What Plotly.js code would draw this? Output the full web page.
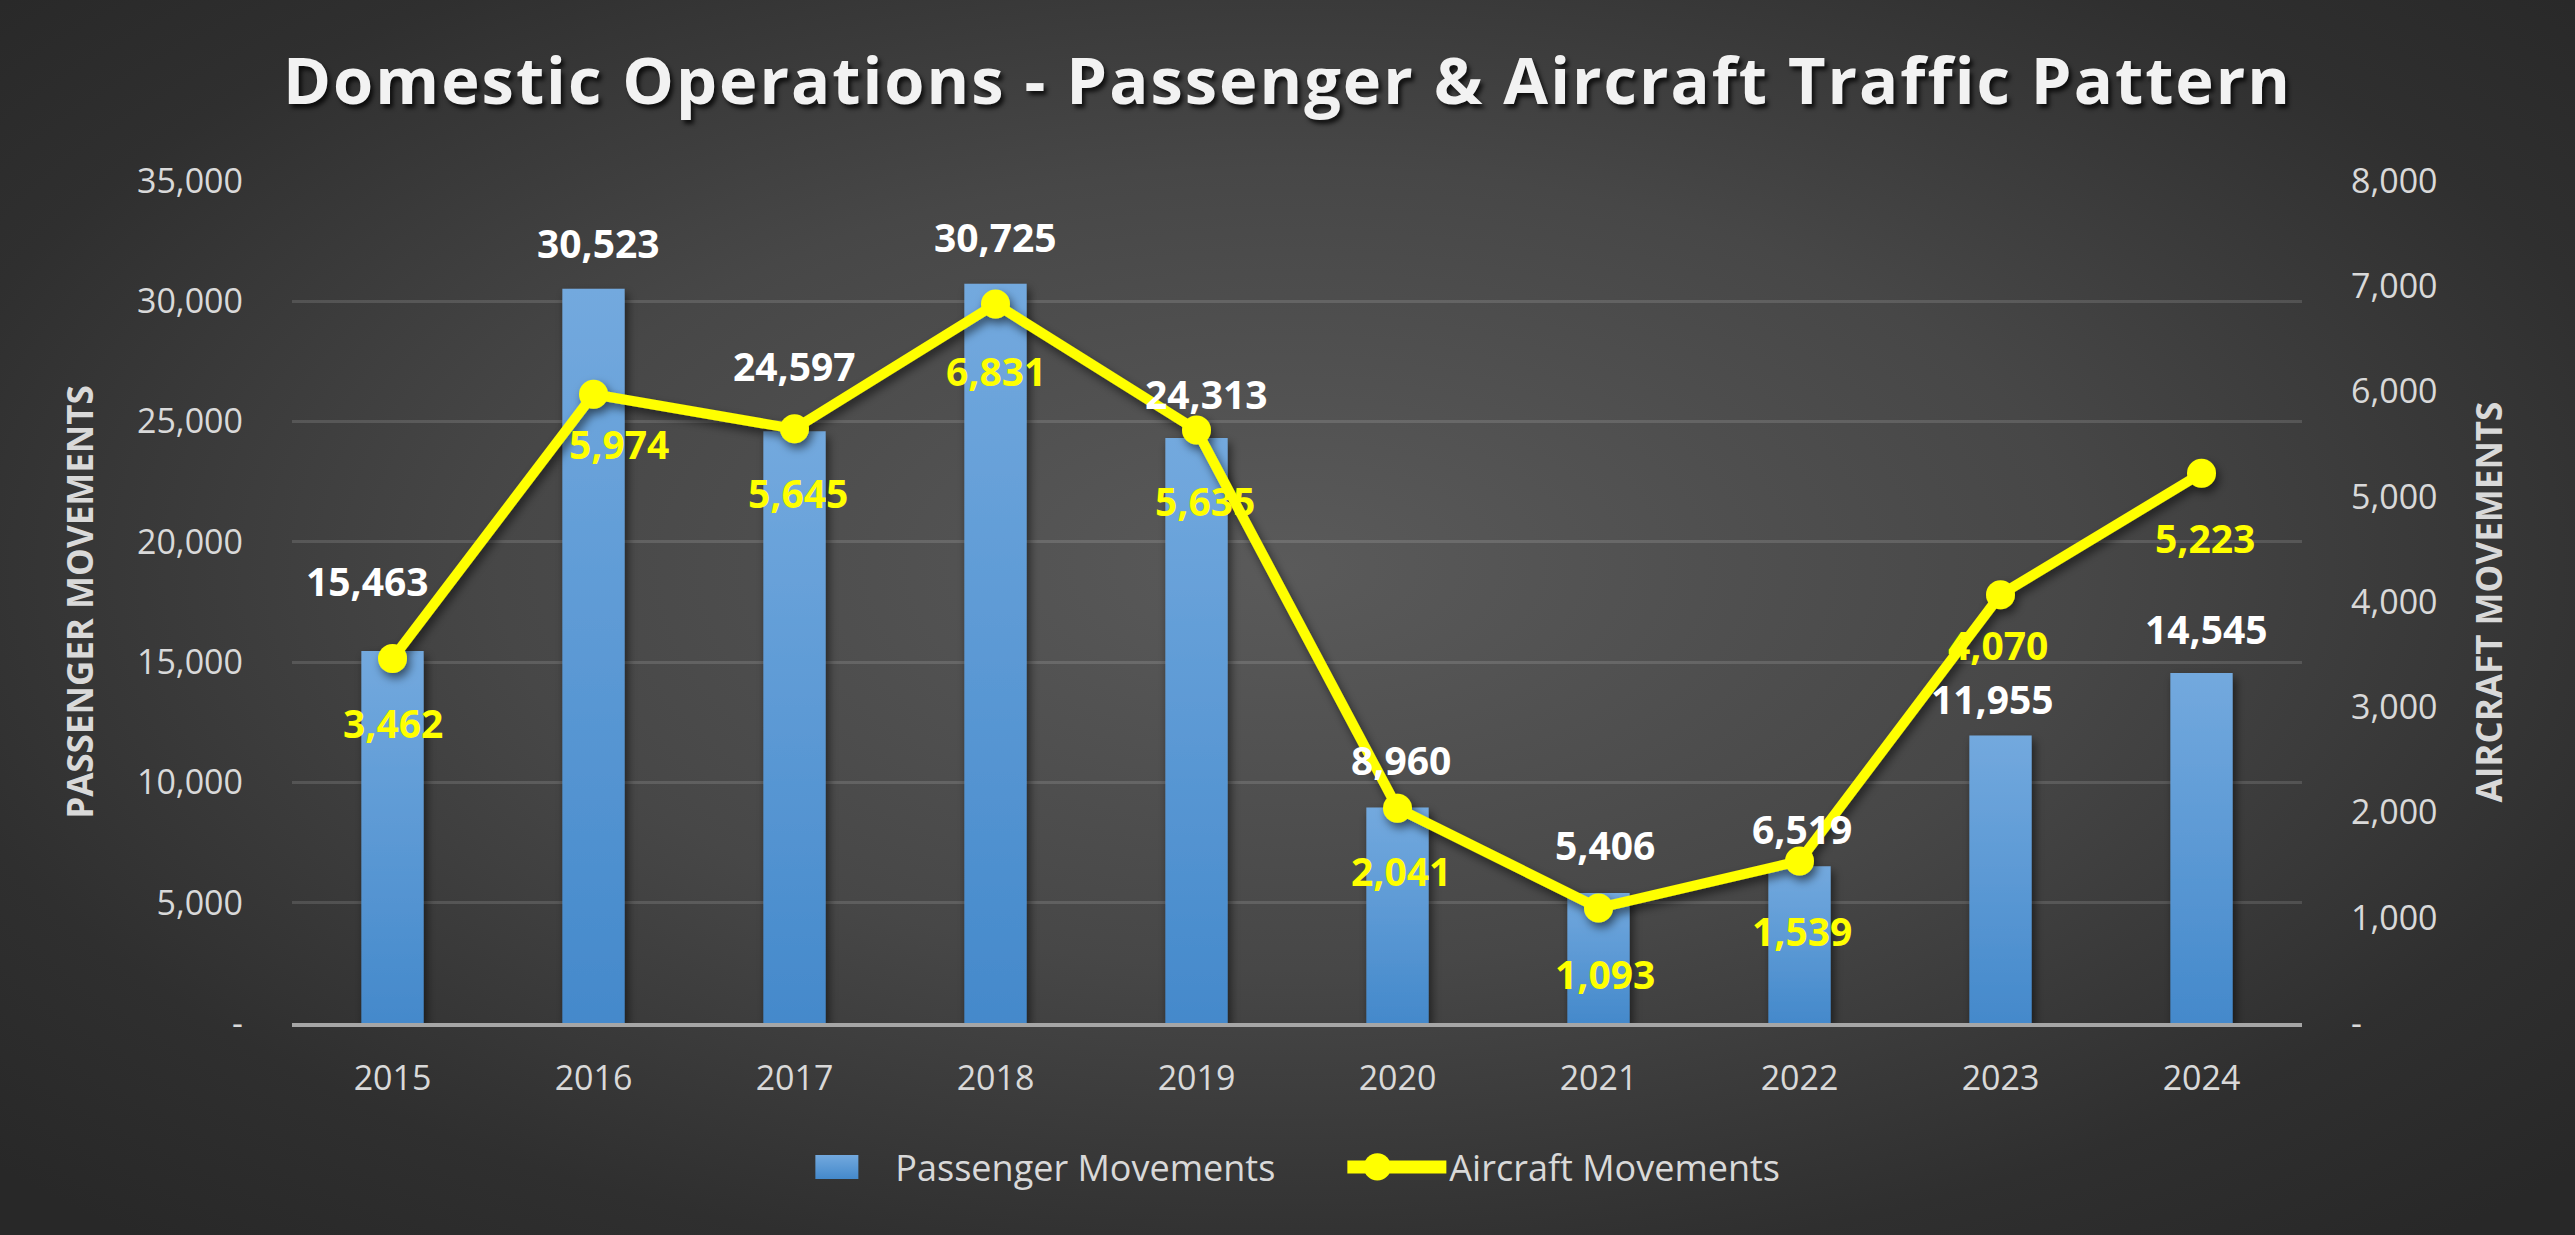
<!DOCTYPE html>
<html>
<head>
<meta charset="utf-8">
<script src="https://cdn.plot.ly/plotly-3.0.1.min.js"></script>
<style>
  html, body { margin: 0; padding: 0; width: 2575px; height: 1235px; overflow: hidden;
    background: radial-gradient(ellipse 68% 72% at 50% 46%, #5a5a5a 0%, #474747 45%, #2f2f2f 80%, #282828 100%); }
  #chart { width: 2575px; height: 1235px; }
  .gtitle { letter-spacing: 2px; }
</style>
</head>
<body>
<div id="chart"></div>
<script>
// ---------- data ----------
const years = ['2015', '2016', '2017', '2018', '2019', '2020', '2021', '2022', '2023', '2024'];
const passengerMovements = [15463, 30523, 24597, 30725, 24313, 8960, 5406, 6519, 11955, 14545];
const aircraftMovements = [3462, 5974, 5645, 6831, 5635, 2041, 1093, 1539, 4070, 5223];
const leftTickVals = [0, 5000, 10000, 15000, 20000, 25000, 30000, 35000];
const leftTickText = ['-', '5,000', '10,000', '15,000', '20,000', '25,000', '30,000', '35,000'];
const rightTickVals = [0, 1000, 2000, 3000, 4000, 5000, 6000, 7000, 8000];
const rightTickText = ['-', '1,000', '2,000', '3,000', '4,000', '5,000', '6,000', '7,000', '8,000'];

// ---------- label placement (style, px) ----------
const barLabelDy = [71, 46, 66, 47, 45, 48, 48, 38, 37, 45];
const barLabelDx = [-25, 5, 0, 0, 10, 3, 6, 2, -8, 5];
const lineLabelDy = [-64, -49, -64, -66, -71, -62, -66, -69, -50, -64];
const lineLabelDx = [0, 25, 3, 0, 8, 3, 6, 2, -3, 3];

const fmt = v => v.toLocaleString('en-US');
const textColor = '#d9d9d9';
const baseFont = 'Open Sans, Noto Sans, sans-serif';

const barTrace = {
  type: 'bar', name: 'Passenger Movements',
  x: years, y: passengerMovements,
  width: 0.31,
  marker: { color: '#5b9bd5', line: { width: 0 } },
  hoverinfo: 'skip'
};
const lineTrace = {
  type: 'scatter', mode: 'lines+markers', name: 'Aircraft Movements',
  x: years, y: aircraftMovements, yaxis: 'y2',
  line: { color: '#ffff00', width: 10 },
  marker: { color: '#ffff00', size: 29 },
  hoverinfo: 'skip'
};

const annotations = [];
years.forEach((yr, i) => {
  annotations.push({
    x: i, y: passengerMovements[i], xref: 'x', yref: 'y',
    text: fmt(passengerMovements[i]), showarrow: false,
    xanchor: 'center', yanchor: 'middle',
    xshift: barLabelDx[i], yshift: barLabelDy[i],
    font: { family: baseFont, size: 39, color: '#ffffff', weight: 700 }
  });
  annotations.push({
    x: i, y: aircraftMovements[i], xref: 'x', yref: 'y2',
    text: fmt(aircraftMovements[i]), showarrow: false,
    xanchor: 'center', yanchor: 'middle',
    xshift: lineLabelDx[i], yshift: lineLabelDy[i],
    font: { family: baseFont, size: 39, color: '#ffff00', weight: 700 }
  });
});

const layout = {
  width: 2575, height: 1235,
  margin: { l: 292, r: 273, t: 181, b: 212, pad: 0 },
  paper_bgcolor: 'rgba(0,0,0,0)',
  plot_bgcolor: 'rgba(0,0,0,0)',
  title: {
    text: 'Domestic Operations - Passenger & Aircraft Traffic Pattern',
    x: 0.5, xref: 'container', xanchor: 'center',
    y: 0.934, yref: 'container', yanchor: 'middle',
    font: { family: baseFont, size: 65, color: '#f2f2f2', weight: 700,
            shadow: '3px 4px 4px rgba(0,0,0,0.75)' }
  },
  xaxis: {
    type: 'category', range: [-0.5, 9.5],
    showgrid: false, zeroline: false,
    showline: true, linecolor: '#a6a6a6', linewidth: 4,
    ticks: '', ticklabelstandoff: 22,
    tickfont: { family: baseFont, size: 34, color: textColor }
  },
  yaxis: {
    range: [0, 35000], tickvals: leftTickVals, ticktext: leftTickText,
    showgrid: true, gridcolor: 'rgba(255,255,255,0.13)', gridwidth: 3,
    zeroline: false, showline: false, ticks: '', ticklabelstandoff: 48,
    tickfont: { family: baseFont, size: 34, color: textColor },
    title: { text: 'PASSENGER MOVEMENTS', standoff: 32,
             font: { family: baseFont, size: 35, color: textColor, weight: 700 } }
  },
  yaxis2: {
    range: [0, 8000], tickvals: rightTickVals, ticktext: rightTickText,
    overlaying: 'y', side: 'right',
    showgrid: false, zeroline: false, showline: false, ticks: '', ticklabelstandoff: 48,
    tickfont: { family: baseFont, size: 34, color: textColor },
    title: { text: 'AIRCRAFT MOVEMENTS', standoff: 40,
             font: { family: baseFont, size: 35, color: textColor, weight: 700 } }
  },
  showlegend: true,
  legend: {
    orientation: 'h', x: 0.536, xanchor: 'center', y: -0.171, yanchor: 'middle',
    font: { family: baseFont, size: 36, color: textColor },
    bgcolor: 'rgba(0,0,0,0)', itemwidth: 70, traceorder: 'normal',
    entrywidth: 469, entrywidthmode: 'pixels'
  },
  annotations: annotations
};

Plotly.newPlot('chart', [barTrace, lineTrace], layout, { staticPlot: true, displayModeBar: false })
.then(gd => {
  const ns = 'http://www.w3.org/2000/svg';
  const svg = gd.querySelector('svg.main-svg');
  let defs = svg.querySelector('defs');
  if (!defs) { defs = document.createElementNS(ns, 'defs'); svg.insertBefore(defs, svg.firstChild); }
  const grad = document.createElementNS(ns, 'linearGradient');
  grad.setAttribute('id', 'barGrad');
  grad.setAttribute('x1', '0'); grad.setAttribute('y1', '0');
  grad.setAttribute('x2', '0'); grad.setAttribute('y2', '1');
  [['0%', '#73a9de'], ['100%', '#4489cb']].forEach(([o, c]) => {
    const s = document.createElementNS(ns, 'stop');
    s.setAttribute('offset', o); s.setAttribute('stop-color', c);
    grad.appendChild(s);
  });
  defs.appendChild(grad);
  const filt = document.createElementNS(ns, 'filter');
  filt.setAttribute('id', 'dropShadow');
  filt.setAttribute('x', '-20%'); filt.setAttribute('y', '-20%');
  filt.setAttribute('width', '140%'); filt.setAttribute('height', '140%');
  const ds = document.createElementNS(ns, 'feDropShadow');
  ds.setAttribute('dx', '3'); ds.setAttribute('dy', '5'); ds.setAttribute('stdDeviation', '5');
  ds.setAttribute('flood-color', '#000'); ds.setAttribute('flood-opacity', '0.55');
  filt.appendChild(ds);
  defs.appendChild(filt);

  gd.querySelectorAll('.barlayer .point path').forEach(p => {
    p.style.fill = 'url(#barGrad)';
    p.setAttribute('filter', 'url(#dropShadow)');
  });
  // reshape legend symbols to resemble the reference swatches
  gd.querySelectorAll('.legend .traces').forEach((tr, idx) => {
    if (idx === 0) {
      tr.querySelectorAll('.legendpoints path').forEach(p => {
        p.setAttribute('d', 'M-59,-12H3V12H-59Z');
        p.style.fill = 'url(#barGrad)';
      });
    } else {
      tr.querySelectorAll('.legendlines path').forEach(p => {
        p.setAttribute('d', 'M-22,0h99');
        p.style.strokeWidth = '13px';
      });
      tr.querySelectorAll('.legendpoints path').forEach(p => {
        p.setAttribute('transform', 'translate(8,0) scale(1.7)');
      });
    }
  });
  gd.querySelectorAll('.scatterlayer .trace').forEach(t => t.setAttribute('filter', 'url(#dropShadow)'));
});
</script>
</body>
</html>
